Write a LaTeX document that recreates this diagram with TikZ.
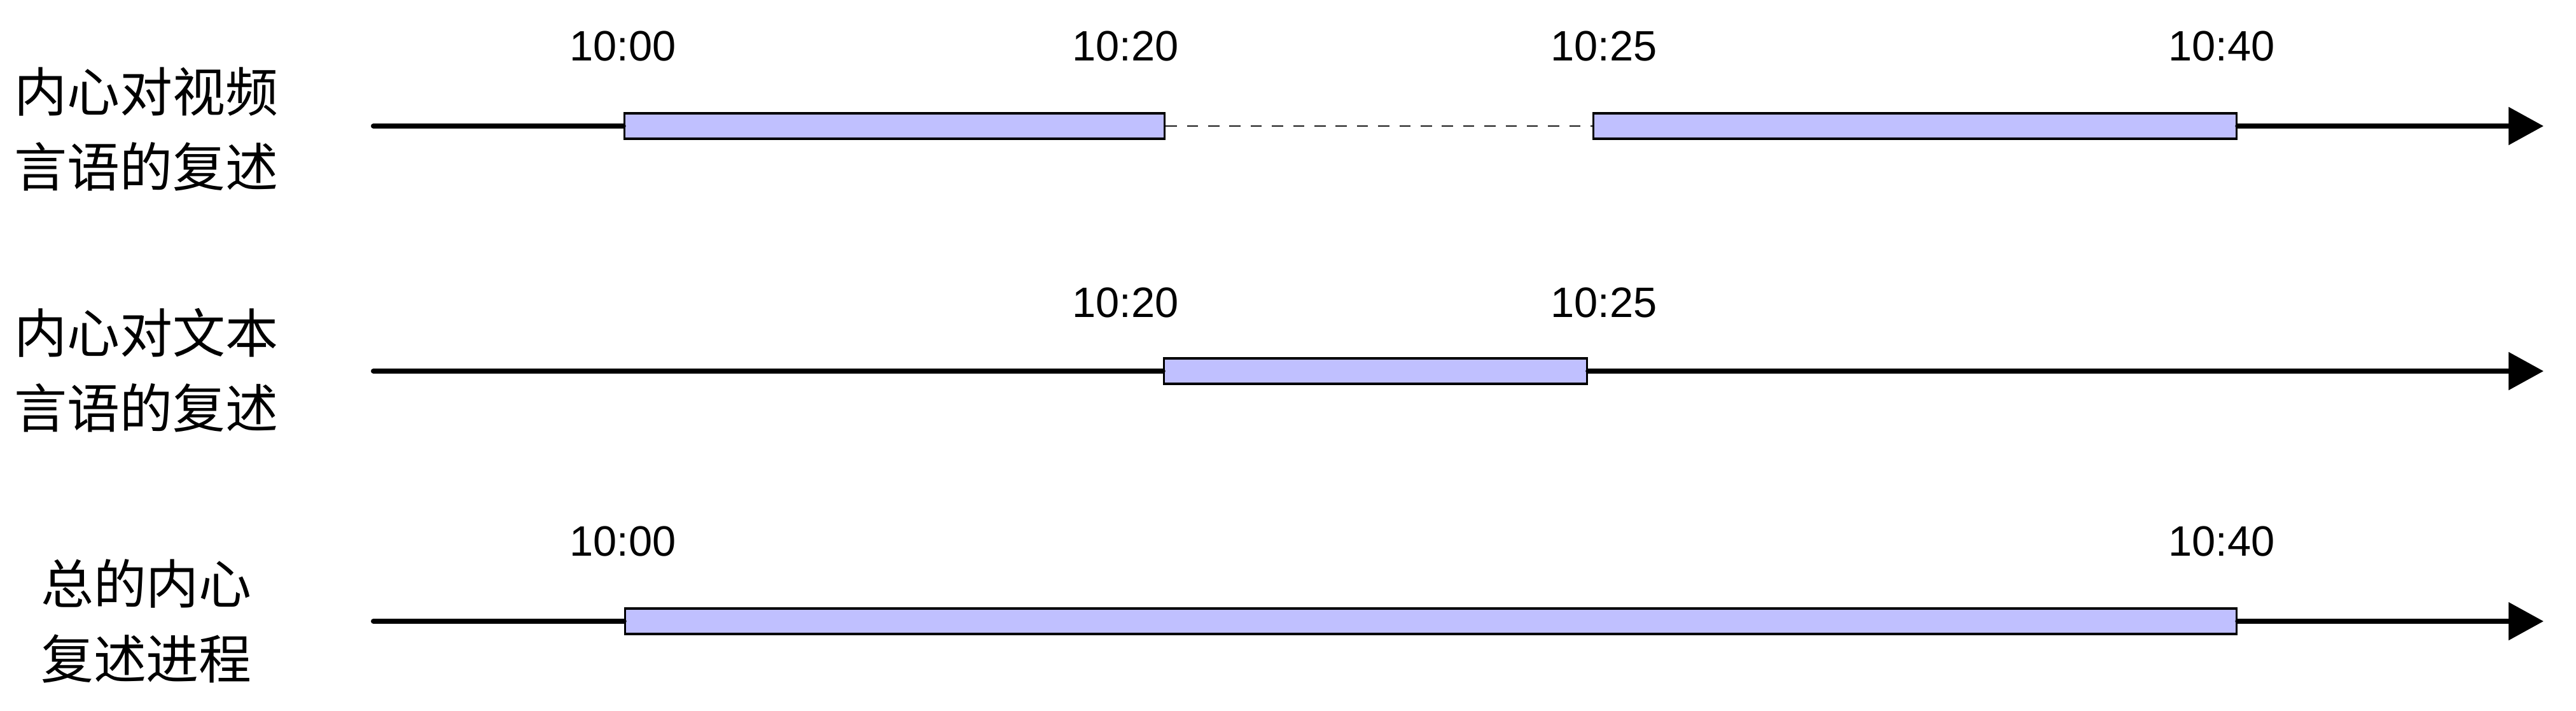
\documentclass[tikz,border=0pt]{standalone}
\usepackage{fontspec}
\setmainfont{Liberation Sans}
\newfontfamily\cjk{Noto Sans CJK SC}
\usetikzlibrary{arrows.meta}
\definecolor{barblue}{RGB}{192,192,255}

\begin{document}
\begin{tikzpicture}[every node/.style={font=\fontsize{19}{23}\selectfont},
        rowlabel/.style={align=center, font=\cjk\fontsize{23.6}{33.5}\selectfont},
        stamp/.style={anchor=base},
        bar/.style={draw, line width=1pt, fill=barblue, inner sep=0pt, minimum height=0.4cm},
        axis/.style={line width=2.3pt, line cap=round},
        gap/.style={line width=0.5pt, dash pattern=on 5pt off 4.5pt, black!90}]
        \useasboundingbox (0,0) rectangle (40.49,-11.16);
        % row labels
        \node[rowlabel] (r1) at (2.30,-2.03) {内心对视频\\言语的复述};
        \node[rowlabel] (r2) at (2.30,-5.82) {内心对文本\\言语的复述};
        \node[rowlabel] (r3) at (2.30,-9.755) {总的内心\\复述进程};
        % bars
        \node[bar, minimum width=8.49cm] (v1) at (14.06,-1.98) {};
        \node[bar, minimum width=10.11cm] (v2) at (30.10,-1.98) {};
        \node[bar, minimum width=6.65cm] (t1) at (21.62,-5.83) {};
        \node[bar, minimum width=25.33cm] (s1) at (22.49,-9.76) {};
        % times
        \node[stamp] (v1a) at (9.79,-0.95) {10:00};
        \node[stamp] (v1b) at (17.69,-0.95) {10:20};
        \node[stamp] (v2a) at (25.21,-0.95) {10:25};
        \node[stamp] (v2b) at (34.92,-0.95) {10:40};
        \node[stamp] (t1a) at (17.69,-4.98) {10:20};
        \node[stamp] (t1b) at (25.21,-4.98) {10:25};
        \node[stamp] (s1a) at (9.79,-8.73) {10:00};
        \node[stamp] (s1b) at (34.92,-8.73) {10:40};
        % axes
        \coordinate (v0) at (5.87,-1.98);
        \coordinate (vend) at (39.98,-1.98);
        \coordinate (t0) at (5.87,-5.83);
        \coordinate (tend) at (39.98,-5.83);
        \coordinate (s0) at (5.87,-9.76);
        \coordinate (send) at (39.98,-9.76);
        \draw[axis] (v0) -- (v1.west);
        \draw[gap] (v1.east) -- (v2.west);
        \draw[axis, -{Triangle[length=0.55cm, width=0.58cm]}] (v2.east) -- (vend);
        \draw[axis] (t0) -- (t1.west);
        \draw[axis, -{Triangle[length=0.55cm, width=0.58cm]}] (t1.east) -- (tend);
        \draw[axis] (s0) -- (s1.west);
        \draw[axis, -{Triangle[length=0.55cm, width=0.58cm]}] (s1.east) -- (send);
    \end{tikzpicture}
\end{document}
